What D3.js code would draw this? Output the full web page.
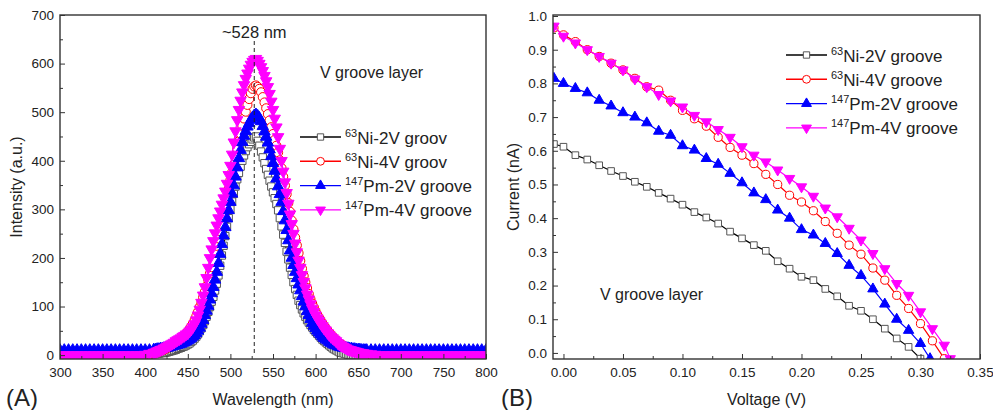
<!DOCTYPE html>
<html>
<head>
<meta charset="utf-8">
<script src="https://cdn.jsdelivr.net/npm/d3@7"></script>
<style>
  body { margin: 0; background: #fff; }
  svg { display: block; }
</style>
</head>
<body>
<svg id="chart" width="993" height="410"></svg>
<script>
const FONT = 'Arial, "Liberation Sans", sans-serif';

// ---- panel A: emission spectra ----
const wavelength = [
  300, 305, 310, 315, 320, 325, 330, 335, 340, 345,
  350, 355, 360, 365, 370, 375, 380, 385, 390, 395,
  400, 405,
  410, 412, 414, 416, 418, 420, 422, 424, 426, 428,
  430, 432, 434, 436, 438, 440, 442, 444, 446, 448,
  450, 452, 454, 456, 458, 460, 462, 464, 466, 468,
  470, 472, 474, 476, 478, 480, 482, 484, 486, 488,
  490, 492, 494, 496, 498, 500, 502, 504, 506, 508,
  510, 512, 514, 516, 518, 520, 522, 524, 526, 528,
  530, 532, 534, 536, 538, 540, 542, 544, 546, 548,
  550, 552, 554, 556, 558, 560, 562, 564, 566, 568,
  570, 572, 574, 576, 578, 580, 582, 584, 586, 588,
  590, 592, 594, 596, 598, 600, 602, 604, 606, 608,
  610, 612, 614, 616, 618, 620, 622, 624, 626, 628,
  630, 632, 634, 636, 638, 640, 642, 644, 646, 648,
  650, 652, 654, 656, 658, 660,
  665, 670, 675, 680, 685, 690, 695, 700, 705, 710,
  715, 720, 725, 730, 735, 740, 745, 750, 755, 760,
  765, 770, 775, 780, 785, 790, 795, 800
];

const specNi2 = [
  0, 0, 0, 0, 0, 0, 0, 0, 0, 0,
  0, 0, 0, 0, 0, 0, 0, 0, 0, 0,
  0, 1,
  2, 2, 3, 3, 4, 4, 5, 5, 6, 7,
  8, 9, 10, 11, 13, 14, 15, 17, 18, 20,
  22, 24, 27, 30, 34, 38, 43, 49, 55, 62,
  70, 79, 89, 99, 110, 120, 133, 147, 164, 184,
  205, 225, 245, 264, 282, 300, 316, 332, 347, 362,
  375, 388, 400, 411, 420, 428, 434, 439, 444, 448,
  450, 441, 431, 419, 407, 395, 383, 371, 359, 347,
  335, 323, 311, 298, 282, 265, 248, 231, 213, 197,
  180, 165, 150, 136, 124, 112, 103, 94, 86, 79,
  72, 67, 62, 57, 52, 48, 44, 40, 36, 32,
  29, 26, 23, 20, 17, 14, 12, 10, 8, 6,
  5, 4, 3, 2, 1, 1, 0, 0, 0, 0,
  0, 0, 0, 0, 0, 0,
  0, 0, 0, 0, 0, 0, 0, 0, 0, 0,
  0, 0, 0, 0, 0, 0, 0, 0, 0, 0,
  0, 0, 0, 0, 0, 0, 0, 0
];

const specNi4 = [
  0, 0, 0, 0, 0, 0, 0, 0, 0, 0,
  0, 0, 0, 0, 0, 0, 0, 0, 0, 0,
  1, 2,
  4, 5, 6, 7, 9, 10, 11, 13, 15, 16,
  18, 20, 22, 25, 27, 30, 33, 36, 40, 44,
  48, 53, 59, 65, 72, 80, 89, 99, 108, 119,
  130, 142, 155, 168, 181, 195, 210, 225, 240, 255,
  270, 288, 306, 324, 342, 360, 376, 392, 408, 424,
  440, 456, 472, 487, 501, 515, 527, 539, 548, 553,
  555, 552, 548, 541, 531, 520, 508, 496, 483, 469,
  455, 443, 431, 417, 401, 385, 367, 349, 331, 313,
  295, 277, 259, 242, 226, 210, 194, 178, 163, 150,
  138, 126, 115, 106, 98, 90, 83, 77, 71, 65,
  60, 55, 50, 46, 42, 38, 34, 31, 27, 24,
  22, 20, 17, 15, 13, 12, 10, 9, 8, 7,
  6, 5, 5, 4, 4, 3,
  2, 1, 0, 0, 0, 0, 0, 0, 0, 0,
  0, 0, 0, 0, 0, 0, 0, 0, 0, 0,
  0, 0, 0, 0, 0, 0, 0, 0
];

const specPm2 = [
  10, 10, 10, 10, 10, 10, 10, 10, 10, 10,
  10, 10, 10, 10, 10, 10, 10, 10, 10, 10,
  10, 10,
  11, 11, 12, 12, 13, 13, 14, 15, 15, 16,
  17, 18, 19, 20, 21, 22, 23, 25, 26, 28,
  30, 32, 35, 38, 41, 45, 50, 56, 64, 72,
  82, 91, 101, 114, 127, 140, 155, 171, 189, 208,
  228, 246, 263, 281, 298, 315, 332, 349, 367, 386,
  405, 422, 438, 451, 461, 470, 477, 484, 489, 493,
  495, 492, 488, 481, 471, 460, 449, 437, 423, 409,
  395, 379, 363, 347, 331, 315, 296, 277, 257, 236,
  215, 200, 185, 171, 158, 145, 133, 121, 110, 100,
  90, 82, 74, 66, 60, 55, 50, 46, 42, 38,
  35, 32, 30, 27, 25, 23, 21, 20, 18, 17,
  16, 15, 15, 14, 14, 13, 13, 12, 12, 11,
  11, 11, 10, 10, 10, 10,
  10, 10, 10, 10, 10, 10, 10, 10, 10, 10,
  10, 10, 10, 10, 10, 10, 10, 10, 10, 10,
  10, 10, 10, 10, 10, 10, 10, 10
];

const specPm4 = [
  0, 0, 0, 0, 0, 0, 0, 0, 0, 0,
  0, 0, 0, 0, 0, 0, 0, 0, 0, 0,
  1, 3,
  5, 6, 8, 9, 11, 12, 14, 16, 18, 20,
  22, 24, 26, 29, 31, 33, 35, 38, 40, 43,
  45, 49, 53, 58, 64, 72, 82, 94, 108, 123,
  140, 159, 180, 200, 218, 235, 251, 267, 282, 296,
  310, 323, 337, 353, 371, 390, 413, 438, 461, 484,
  505, 524, 541, 556, 569, 580, 590, 598, 604, 608,
  610, 606, 600, 593, 585, 575, 564, 552, 538, 522,
  505, 487, 469, 449, 425, 400, 378, 356, 334, 312,
  290, 270, 250, 230, 212, 195, 180, 165, 151, 138,
  125, 115, 105, 96, 89, 82, 76, 71, 65, 60,
  55, 51, 46, 42, 38, 35, 32, 29, 25, 22,
  20, 18, 16, 14, 12, 11, 10, 9, 8, 7,
  6, 5, 4, 4, 3, 3,
  2, 1, 0, 0, 0, 0, 0, 0, 0, 0,
  0, 0, 0, 0, 0, 0, 0, 0, 0, 0,
  0, 0, 0, 0, 0, 0, 0, 0
];

const peakWavelength = 528;

// ---- panel B: I-V curves ----
const voltNi2 = [-0.008, 0.00, 0.01, 0.02, 0.03, 0.04, 0.05, 0.06, 0.07, 0.08, 0.09,
  0.10, 0.11, 0.12, 0.13, 0.14, 0.15, 0.16, 0.17, 0.18, 0.19,
  0.20, 0.21, 0.22, 0.23, 0.24, 0.25, 0.26, 0.27, 0.28, 0.29, 0.30];
const currNi2 = [0.62, 0.612, 0.587, 0.574, 0.557, 0.54, 0.525, 0.508, 0.493, 0.475, 0.458,
  0.44, 0.418, 0.402, 0.384, 0.36, 0.34, 0.32, 0.303, 0.272, 0.25,
  0.226, 0.216, 0.19, 0.168, 0.14, 0.125, 0.10, 0.072, 0.043, 0.018, -0.017];

const voltNi4 = [-0.008, 0.00, 0.01, 0.02, 0.03, 0.04, 0.05, 0.06, 0.07, 0.08, 0.09,
  0.10, 0.11, 0.12, 0.13, 0.14, 0.15, 0.16, 0.17, 0.18, 0.19,
  0.20, 0.21, 0.22, 0.23, 0.24, 0.25, 0.26, 0.27, 0.28, 0.29, 0.30, 0.31, 0.32];
const currNi4 = [0.965, 0.944, 0.924, 0.90, 0.88, 0.86, 0.84, 0.815, 0.79, 0.78, 0.75,
  0.72, 0.695, 0.673, 0.64, 0.61, 0.587, 0.562, 0.53, 0.50, 0.468,
  0.448, 0.422, 0.39, 0.355, 0.32, 0.293, 0.252, 0.216, 0.171, 0.132, 0.087, 0.036, -0.017];

const voltPm2 = [-0.008, 0.00, 0.01, 0.02, 0.03, 0.04, 0.05, 0.06, 0.07, 0.08, 0.09,
  0.10, 0.11, 0.12, 0.13, 0.14, 0.15, 0.16, 0.17, 0.18, 0.19,
  0.20, 0.21, 0.22, 0.23, 0.24, 0.25, 0.26, 0.27, 0.28, 0.29, 0.30, 0.308];
const currPm2 = [0.815, 0.80, 0.785, 0.772, 0.75, 0.733, 0.713, 0.70, 0.683, 0.658, 0.646,
  0.615, 0.602, 0.577, 0.56, 0.533, 0.505, 0.475, 0.455, 0.424, 0.40,
  0.366, 0.35, 0.325, 0.295, 0.26, 0.23, 0.19, 0.145, 0.10, 0.067, 0.028, -0.017];

const voltPm4 = [-0.008, 0.00, 0.01, 0.02, 0.03, 0.04, 0.05, 0.06, 0.07, 0.08, 0.09,
  0.10, 0.11, 0.12, 0.13, 0.14, 0.15, 0.16, 0.17, 0.18, 0.19,
  0.20, 0.21, 0.22, 0.23, 0.24, 0.25, 0.26, 0.27, 0.28, 0.29, 0.30, 0.31, 0.32, 0.325];
const currPm4 = [0.97, 0.94, 0.92, 0.90, 0.88, 0.86, 0.84, 0.813, 0.79, 0.767, 0.748,
  0.73, 0.705, 0.686, 0.663, 0.64, 0.612, 0.587, 0.567, 0.543, 0.518,
  0.493, 0.465, 0.43, 0.404, 0.37, 0.335, 0.295, 0.25, 0.206, 0.171, 0.122, 0.072, 0.023, -0.017];

// tick labels
const ticksA_x = [300, 350, 400, 450, 500, 550, 600, 650, 700, 750, 800];
const ticksA_y = [0, 100, 200, 300, 400, 500, 600, 700];
const ticksB_x = [0, 0.05, 0.10, 0.15, 0.20, 0.25, 0.30, 0.35];
const ticksB_y = [0, 0.1, 0.2, 0.3, 0.4, 0.5, 0.6, 0.7, 0.8, 0.9, 1.0];

// series look
const styles = {
  ni2: { color: '#000', marker: 'square', stroke: '#555', fill: '#fff' },
  ni4: { color: '#ff0000', marker: 'circle', stroke: '#ff0000', fill: '#fff' },
  pm2: { color: '#0000ff', marker: 'up', stroke: '#0000ff', fill: '#0000ff' },
  pm4: { color: '#ff00ff', marker: 'down', stroke: '#ff00ff', fill: '#ff00ff' }
};

const svg = d3.select('#chart').attr('font-family', FONT);

function symbolPath(type, k) {
  if (type === 'square') return d3.symbol(d3.symbolSquare, 40 * k)();
  if (type === 'circle') return d3.symbol(d3.symbolCircle, 48 * k)();
  return d3.symbol(d3.symbolTriangle, 42 * k)();
}

function drawMarker(sel, st, k) {
  sel.attr('d', symbolPath(st.marker, k || 1))
    .attr('fill', st.fill)
    .attr('stroke', st.stroke)
    .attr('stroke-width', 1);
}

function drawPanel(p) {
  const g = svg.append('g');
  const [x0, x1] = p.x.range();
  const [y1, y0] = p.y.range();

  g.append('clipPath').attr('id', p.id)
    .append('rect').attr('x', x0).attr('y', y0).attr('width', x1 - x0).attr('height', y1 - y0);

  const plot = g.append('g').attr('clip-path', `url(#${p.id})`);

  p.series.forEach(s => {
    const st = styles[s.key];
    const pts = s.xs.map((v, i) => [v, s.ys[i]]);
    plot.append('path')
      .datum(pts)
      .attr('fill', 'none')
      .attr('stroke', st.color)
      .attr('stroke-width', 1.2)
      .attr('d', d3.line().x(d => p.x(d[0])).y(d => p.y(d[1])));
    plot.append('g').selectAll('path').data(pts).join('path')
      .attr('transform', d => `translate(${p.x(d[0])},${p.y(d[1])})` + (st.marker === 'down' ? ' rotate(180)' : ''))
      .call(drawMarker, st, p.markerScale);
  });

  // axes, ticks pointing inward
  const bottom = g.append('g').attr('transform', `translate(0,${y1})`)
    .call(d3.axisBottom(p.x).tickValues(p.xTicks).tickSizeInner(-5).tickSizeOuter(0).tickPadding(8).tickFormat(p.xFmt));
  g.append('g').attr('transform', `translate(0,${y1})`)
    .call(d3.axisBottom(p.x).tickValues(p.xMinor).tickSizeInner(-3).tickSizeOuter(0).tickFormat(''));
  const left = g.append('g').attr('transform', `translate(${x0},0)`)
    .call(d3.axisLeft(p.y).tickValues(p.yTicks).tickSizeInner(-5).tickSizeOuter(0).tickPadding(6).tickFormat(p.yFmt));
  g.append('g').attr('transform', `translate(${x0},0)`)
    .call(d3.axisLeft(p.y).tickValues(p.yMinor).tickSizeInner(-3).tickSizeOuter(0).tickFormat(''));
  g.selectAll('.domain').remove();
  g.selectAll('.tick line').attr('stroke', '#333');
  [bottom, left].forEach(a => a.attr('font-size', 13.5).attr('font-family', FONT).selectAll('text').attr('fill', '#222'));

  g.append('rect')
    .attr('x', x0).attr('y', y0).attr('width', x1 - x0).attr('height', y1 - y0)
    .attr('fill', 'none').attr('stroke', '#333').attr('stroke-width', 1.4);

  // titles
  g.append('text')
    .attr('x', (x0 + x1) / 2).attr('y', 405)
    .attr('text-anchor', 'middle').attr('font-size', 16).attr('fill', '#222')
    .text(p.xTitle);
  g.append('text')
    .attr('transform', `translate(${p.yTitleX},187) rotate(-90)`)
    .attr('text-anchor', 'middle').attr('dy', '0.35em').attr('font-size', 16).attr('fill', '#222')
    .text(p.yTitle);
  g.append('text')
    .attr('x', p.labelX).attr('y', 406)
    .attr('font-size', 24).attr('fill', '#222')
    .text(p.label);
  g.append('text')
    .attr('x', p.noteX).attr('y', p.noteY)
    .attr('font-size', 16).attr('fill', '#222')
    .text('V groove layer');

  // legend
  const lg = g.append('g');
  p.series.forEach((s, i) => {
    const st = styles[s.key];
    const yy = p.legY + i * 24.3;
    lg.append('line')
      .attr('x1', p.legX).attr('x2', p.legX + 41).attr('y1', yy).attr('y2', yy)
      .attr('stroke', st.color).attr('stroke-width', 1.4);
    lg.append('path')
      .attr('transform', `translate(${p.legX + 20.5},${yy})` + (st.marker === 'down' ? ' rotate(180)' : ''))
      .call(drawMarker, st, 1);
    const t = lg.append('text')
      .attr('x', p.legX + 45).attr('y', yy + 6.5)
      .attr('font-size', 17).attr('fill', '#222');
    t.append('tspan').attr('font-size', 11).attr('dy', -7).text(s.sup);
    t.append('tspan').attr('dy', 7).text(s.name);
  });
  return g;
}

// panel A
const xA = d3.scaleLinear().domain([300, 800]).range([60, 486]);
const yA = d3.scaleLinear().domain([-8, 700]).range([359, 15]);
const gA = drawPanel({
  id: 'clipA', x: xA, y: yA, markerScale: 1.35,
  xTicks: ticksA_x, xMinor: ticksA_x.slice(0, -1).map(v => v + 25), xFmt: d3.format('d'),
  yTicks: ticksA_y, yMinor: ticksA_y.slice(0, -1).map(v => v + 50), yFmt: d3.format('d'),
  xTitle: 'Wavelength (nm)', yTitle: 'Intensity (a.u.)', yTitleX: 16,
  label: '(A)', labelX: 6, noteX: 320, noteY: 78,
  legX: 300, legY: 137,
  series: [
    { key: 'ni2', sup: '63', name: 'Ni-2V groov', xs: wavelength, ys: specNi2 },
    { key: 'ni4', sup: '63', name: 'Ni-4V groov', xs: wavelength, ys: specNi4 },
    { key: 'pm2', sup: '147', name: 'Pm-2V groove', xs: wavelength, ys: specPm2 },
    { key: 'pm4', sup: '147', name: 'Pm-4V groove', xs: wavelength, ys: specPm4 }
  ]
});
gA.append('line')
  .attr('x1', xA(peakWavelength)).attr('x2', xA(peakWavelength))
  .attr('y1', 41).attr('y2', yA(0))
  .attr('stroke', '#222').attr('stroke-width', 1).attr('stroke-dasharray', '4,3');
gA.append('text')
  .attr('x', xA(peakWavelength)).attr('y', 38)
  .attr('text-anchor', 'middle').attr('font-size', 16.5).attr('fill', '#222')
  .text('~' + peakWavelength + ' nm');

// panel B
const xB = d3.scaleLinear().domain([-0.0088, 0.35]).range([553, 980]);
const yB = d3.scaleLinear().domain([-0.018, 1.003]).range([359, 15]);
drawPanel({
  id: 'clipB', x: xB, y: yB, markerScale: 1.1,
  xTicks: ticksB_x, xMinor: ticksB_x.slice(0, -1).map(v => v + 0.025), xFmt: d3.format('.2f'),
  yTicks: ticksB_y, yMinor: ticksB_y.slice(0, -1).map(v => v + 0.05), yFmt: d3.format('.1f'),
  xTitle: 'Voltage (V)', yTitle: 'Current (nA)', yTitleX: 513,
  label: '(B)', labelX: 501, noteX: 600, noteY: 300,
  legX: 786, legY: 55,
  series: [
    { key: 'ni2', sup: '63', name: 'Ni-2V groove', xs: voltNi2, ys: currNi2 },
    { key: 'ni4', sup: '63', name: 'Ni-4V groove', xs: voltNi4, ys: currNi4 },
    { key: 'pm2', sup: '147', name: 'Pm-2V groove', xs: voltPm2, ys: currPm2 },
    { key: 'pm4', sup: '147', name: 'Pm-4V groove', xs: voltPm4, ys: currPm4 }
  ]
});
</script>
</body>
</html>
